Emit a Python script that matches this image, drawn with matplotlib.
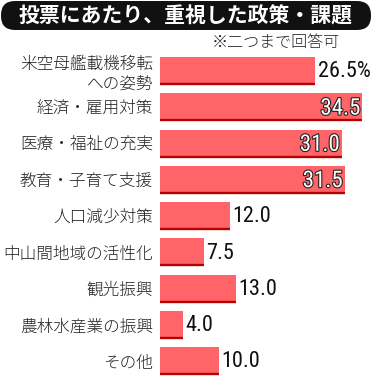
import matplotlib.pyplot as plt
import matplotlib.patheffects as pe
from matplotlib.patches import FancyBboxPatch

plt.rcParams['font.family'] = ['Noto Sans CJK JP', 'DejaVu Sans']

# データ
categories = ['米空母艦載機移転\nへの姿勢', '経済・雇用対策', '医療・福祉の充実', '教育・子育て支援',
              '人口減少対策', '中山間地域の活性化', '観光振興', '農林水産業の振興', 'その他']
values = [26.5, 34.5, 31.0, 31.5, 12.0, 7.5, 13.0, 4.0, 10.0]
labels = ['26.5%', '34.5', '31.0', '31.5', '12.0', '7.5', '13.0', '4.0', '10.0']
inside = [False, True, True, True, False, False, False, False, False]

title = '投票にあたり、重視した政策・課題'
note = '※二つまで回答可'

W, H = 372, 377
fig = plt.figure(figsize=(W / 100, H / 100), dpi=100)

# 棒グラフ部分（ピクセル位置で配置）
ax = fig.add_axes([160 / W, 0, (W - 160) / W, (H - 53) / H])
ys = list(range(len(values)))
bh = 0.77
ax.barh(ys, values, height=bh, color='#ff6468', edgecolor='none')
ax.hlines([y + bh / 2 - 0.025 for y in ys], 0, values, color='#b80000', lw=1.7)
ax.set_xlim(0, (W - 160) / 5.86)
ax.set_ylim(8.44, -0.5)

ax.set_yticks(ys)
ax.set_yticklabels(categories, fontsize=12, color='#222222', linespacing=1.25,
                   fontweight='light')
ax.tick_params(axis='y', length=0, pad=5)
ax.set_xticks([])
for s in ax.spines.values():
    s.set_visible(False)

num_font = ['Roboto Condensed', 'DejaVu Sans']
for y, v, lab, ins in zip(ys, values, labels, inside):
    if ins:
        ax.text(v - 0.3, y + 0.02, lab, ha='right', va='center', fontsize=16.5,
                family=num_font, color='white',
                path_effects=[pe.withStroke(linewidth=1.6, foreground='#222222')])
    else:
        ax.text(v + 0.4, y + 0.02, lab, ha='left', va='center', fontsize=16,
                family=num_font, color='#111111')

# タイトル帯
bar = FancyBboxPatch((1, H - 30), W - 2, 29, boxstyle='round,pad=0,rounding_size=14',
                     transform=None, facecolor='#111111', edgecolor='none')
fig.add_artist(bar)
fig.text(0.5, (H - 15.5) / H, title, ha='center', va='center', color='white',
         fontsize=15, fontweight='bold')
fig.text(340 / W, (H - 42) / H, note, ha='right', va='center', fontsize=11.5,
         color='#222222', fontweight='light')

fig.savefig('out.png', dpi=100)
